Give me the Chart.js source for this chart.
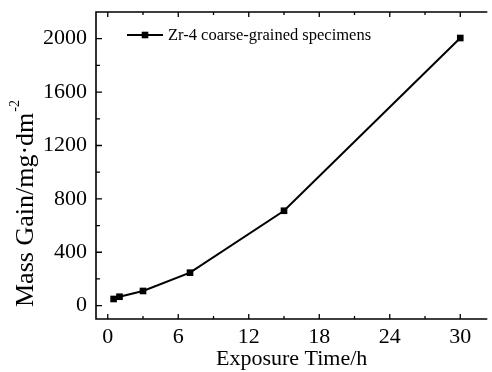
<!DOCTYPE html>
<html><head><meta charset="utf-8">
<script src="https://cdn.jsdelivr.net/npm/chart.js@4.4.1/dist/chart.umd.min.js"></script>
<style>html,body{margin:0;padding:0;background:#fff}canvas{display:block}</style>
</head><body>
<canvas id="c" width="492" height="372"></canvas>
<script>
const exposureHours = [0.5, 1, 3, 7, 15, 30];
const massGain = [50, 67, 110, 247, 711, 2005];
const seriesName = 'Zr-4 coarse-grained specimens';
const xTicks = [0, 6, 12, 18, 24, 30];
const xMinorTicks = [3, 9, 15, 21, 27];
const yTicks = [0, 400, 800, 1200, 1600, 2000];
const yMinorTicks = [200, 600, 1000, 1400, 1800];
const xTitle = 'Exposure Time/h';
const yTitle = 'Mass Gain/mg\u00B7dm';
const yTitleSup = '-2';

const FAMILY = "'Liberation Serif', 'Times New Roman', serif";
Chart.defaults.font.family = FAMILY;
Chart.defaults.color = '#000';

const axesPlugin = {
  id: 'axesFrame',
  afterDraw(chart) {
    const {ctx, chartArea: a, scales: {x, y}} = chart;
    ctx.save();
    ctx.strokeStyle = '#000';
    ctx.lineWidth = 1.6;
    ctx.beginPath();
    ctx.moveTo(a.left, a.top); ctx.lineTo(a.left, a.bottom);
    ctx.moveTo(a.left - 0.8, a.bottom); ctx.lineTo(a.right, a.bottom);
    ctx.moveTo(a.left - 0.8, a.top); ctx.lineTo(a.right, a.top);
    ctx.stroke();
    ctx.lineWidth = 1.3;
    ctx.beginPath();
    xTicks.forEach(v => { const p = x.getPixelForValue(v);
      ctx.moveTo(p, a.bottom); ctx.lineTo(p, a.bottom - 5);
      ctx.moveTo(p, a.top); ctx.lineTo(p, a.top + 5); });
    xMinorTicks.forEach(v => { const p = x.getPixelForValue(v);
      ctx.moveTo(p, a.bottom); ctx.lineTo(p, a.bottom - 3);
      ctx.moveTo(p, a.top); ctx.lineTo(p, a.top + 3); });
    yTicks.forEach(v => { const p = y.getPixelForValue(v);
      ctx.moveTo(a.left, p); ctx.lineTo(a.left + 6, p); });
    yMinorTicks.forEach(v => { const p = y.getPixelForValue(v);
      ctx.moveTo(a.left, p); ctx.lineTo(a.left + 4, p); });
    ctx.stroke();

    // legend
    ctx.lineWidth = 2;
    ctx.beginPath(); ctx.moveTo(127, 35); ctx.lineTo(163, 35); ctx.stroke();
    ctx.fillStyle = '#000';
    ctx.fillRect(145 - 3.3, 35 - 3.3, 6.6, 6.6);
    ctx.font = '16.5px ' + FAMILY;
    ctx.textBaseline = 'middle';
    ctx.textAlign = 'left';
    ctx.fillText(seriesName, 168, 35.5);

    // y title
    ctx.translate(33, 307);
    ctx.rotate(-Math.PI / 2);
    ctx.font = '26px ' + FAMILY;
    ctx.textBaseline = 'alphabetic';
    ctx.fillText(yTitle, 0, 0);
    const w = ctx.measureText(yTitle).width;
    ctx.font = '14px ' + FAMILY;
    ctx.fillText(yTitleSup, w + 1, -14);
    ctx.restore();
  }
};

new Chart(document.getElementById('c'), {
  type: 'line',
  data: {
    datasets: [{
      label: seriesName,
      data: exposureHours.map((h, i) => ({x: h, y: massGain[i]})),
      borderColor: '#000',
      borderWidth: 2,
      pointStyle: 'rect',
      pointRadius: 4.7,
      pointBackgroundColor: '#000',
      pointBorderWidth: 0,
      tension: 0,
      clip: false
    }]
  },
  options: {
    responsive: false,
    animation: false,
    devicePixelRatio: 1,
    layout: {padding: {top: 12, left: 0, right: 0, bottom: 0}},
    plugins: {legend: {display: false}, tooltip: {enabled: false}},
    scales: {
      x: {
        type: 'linear', min: -1, max: 32.3,
        grid: {display: false, drawTicks: false, tickLength: 0}, border: {display: false},
        ticks: {font: {size: 22}, color: '#000', padding: 5, autoSkip: false, maxRotation: 0,
                callback: v => String(v)},
        afterBuildTicks: s => { s.ticks = xTicks.map(v => ({value: v})); },
        afterFit: s => { s.height = 53; s.paddingLeft = 0; s.paddingRight = 0; },
        title: {display: true, text: xTitle, font: {size: 22}, color: '#000', padding: 0}
      },
      y: {
        type: 'linear', min: -100, max: 2200,
        grid: {display: false, drawTicks: false, tickLength: 0}, border: {display: false},
        ticks: {font: {size: 22}, color: '#000', padding: 9, callback: v => String(v)},
        afterBuildTicks: s => { s.ticks = yTicks.map(v => ({value: v})); },
        afterFit: s => { s.width = 96; s.paddingTop = 0; s.paddingBottom = 0; }
      }
    }
  },
  plugins: [axesPlugin]
});
</script>
</body></html>
